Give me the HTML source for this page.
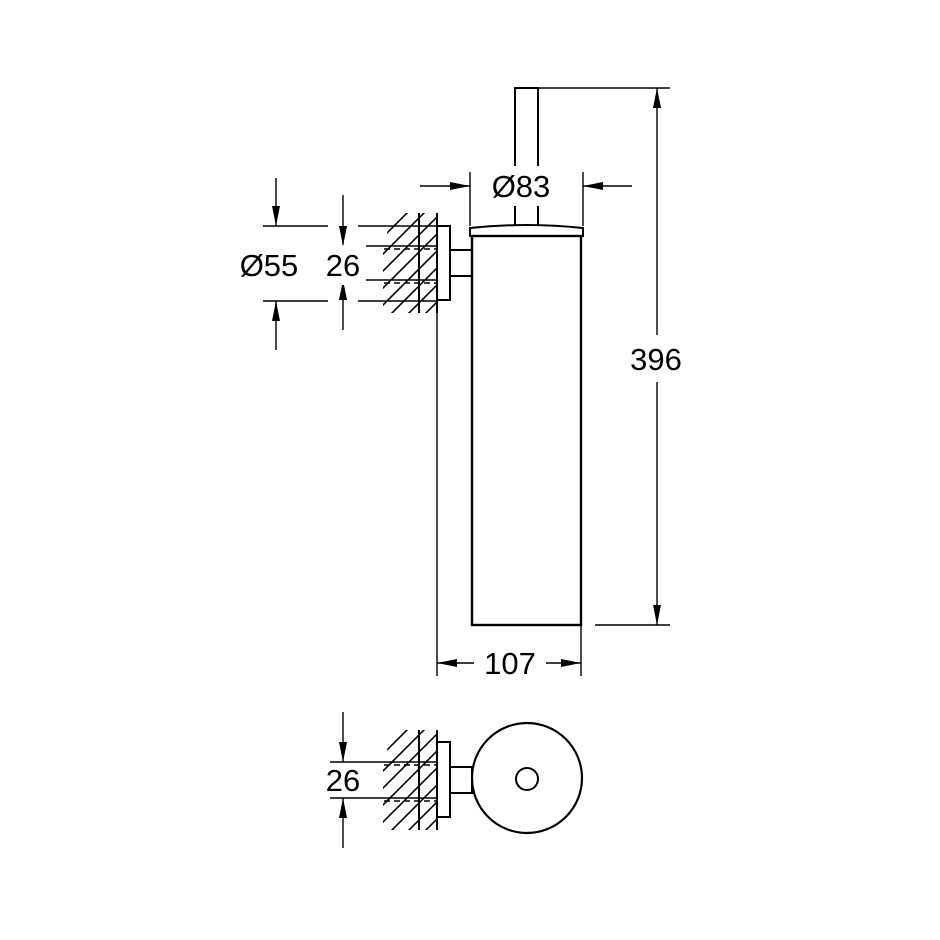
<!DOCTYPE html>
<html><head><style>body{margin:0;background:#fff}svg{display:block}</style></head><body>
<svg width="940" height="940" viewBox="0 0 940 940" xmlns="http://www.w3.org/2000/svg" font-family="Liberation Sans, sans-serif">
<defs>
<clipPath id="h1"><polygon points="392,213 437,213 437,313 383,313 383,250"/></clipPath>
<clipPath id="h2"><polygon points="392,730 437,730 437,830 383,830 383,767"/></clipPath>
<marker id="a" viewBox="0 0 20 8" refX="20" refY="4" markerWidth="20" markerHeight="8" markerUnits="userSpaceOnUse" orient="auto"><path d="M0,0L20,4L0,8z" fill="#000"/></marker>
</defs>
<g stroke="#000" fill="none" stroke-width="1.4">
<rect x="515" y="88" width="23" height="140" fill="#fff" stroke-width="2"/>
<path d="M470,236 L470,228 Q526,222 583,228 L583,236 Z" fill="#fff" stroke-width="2"/>
<rect x="472" y="236" width="109" height="389" stroke-width="2.4"/>
<rect x="437" y="226" width="13" height="74" stroke-width="2"/>
<rect x="450" y="250" width="22" height="26" stroke-width="2"/>
<line x1="419" y1="213" x2="419" y2="313" stroke-width="2"/>
<line x1="437" y1="213" x2="437" y2="313" stroke-width="2"/>
<g clip-path="url(#h1)" stroke-width="1.6">
<path d="M370,250l80,-80M370,267l80,-80M370,284l80,-80M370,301l80,-80M370,318l80,-80M370,335l80,-80M370,352l80,-80M370,369l80,-80"/>
</g>
<line x1="263" y1="226" x2="328" y2="226"/><line x1="358" y1="226" x2="437" y2="226"/>
<line x1="263" y1="301" x2="328" y2="301"/><line x1="358" y1="301" x2="437" y2="301"/>
<line x1="330" y1="246" x2="437" y2="246"/><line x1="330" y1="280" x2="437" y2="280"/>
<line x1="384" y1="249" x2="437" y2="249" stroke-dasharray="6,4"/>
<line x1="384" y1="283" x2="437" y2="283" stroke-dasharray="6,4"/>
<line x1="276" y1="178" x2="276" y2="226" marker-end="url(#a)"/>
<line x1="276" y1="350" x2="276" y2="301" marker-end="url(#a)"/>
<line x1="343" y1="195" x2="343" y2="246" marker-end="url(#a)"/>
<line x1="343" y1="330" x2="343" y2="280" marker-end="url(#a)"/>
<line x1="470" y1="172" x2="470" y2="226"/><line x1="583" y1="172" x2="583" y2="226"/>
<line x1="420" y1="186" x2="470" y2="186" marker-end="url(#a)"/>
<line x1="632" y1="186" x2="583" y2="186" marker-end="url(#a)"/>
<line x1="538" y1="88" x2="670" y2="88"/><line x1="595" y1="625" x2="670" y2="625"/>
<line x1="657" y1="335" x2="657" y2="88" marker-end="url(#a)"/>
<line x1="657" y1="382" x2="657" y2="625" marker-end="url(#a)"/>
<line x1="437" y1="300" x2="437" y2="676"/><line x1="581" y1="625" x2="581" y2="676"/>
<line x1="474" y1="663" x2="437" y2="663" marker-end="url(#a)"/>
<line x1="546" y1="663" x2="581" y2="663" marker-end="url(#a)"/>
<rect x="437" y="742" width="13" height="75" stroke-width="2"/>
<rect x="450" y="767" width="22" height="26" stroke-width="2"/>
<circle cx="527" cy="778" r="55" stroke-width="2.2"/>
<circle cx="527" cy="779" r="11" stroke-width="2"/>
<line x1="419" y1="730" x2="419" y2="830" stroke-width="2"/>
<line x1="437" y1="730" x2="437" y2="830" stroke-width="2"/>
<g clip-path="url(#h2)" stroke-width="1.6">
<path d="M370,767l80,-80M370,784l80,-80M370,801l80,-80M370,818l80,-80M370,835l80,-80M370,852l80,-80M370,869l80,-80M370,886l80,-80"/>
</g>
<line x1="330" y1="762" x2="437" y2="762"/><line x1="330" y1="798" x2="437" y2="798"/>
<line x1="384" y1="765" x2="437" y2="765" stroke-dasharray="6,4"/>
<line x1="384" y1="801" x2="437" y2="801" stroke-dasharray="6,4"/>
<line x1="343" y1="712" x2="343" y2="762" marker-end="url(#a)"/>
<line x1="343" y1="848" x2="343" y2="798" marker-end="url(#a)"/>
</g>
<g font-size="31" fill="#000" text-anchor="middle">
<rect x="484" y="166" width="84" height="40" fill="#fff"/>
<text x="521" y="197">Ø83</text>
<rect x="238" y="245" width="128" height="40" fill="#fff"/>
<text x="269" y="276">Ø55</text>
<text x="343" y="276">26</text>
<text x="656" y="370">396</text>
<text x="510" y="674">107</text>
<rect x="320" y="764" width="46" height="32" fill="#fff"/>
<text x="343" y="791">26</text>
</g>
</svg>
</body></html>
